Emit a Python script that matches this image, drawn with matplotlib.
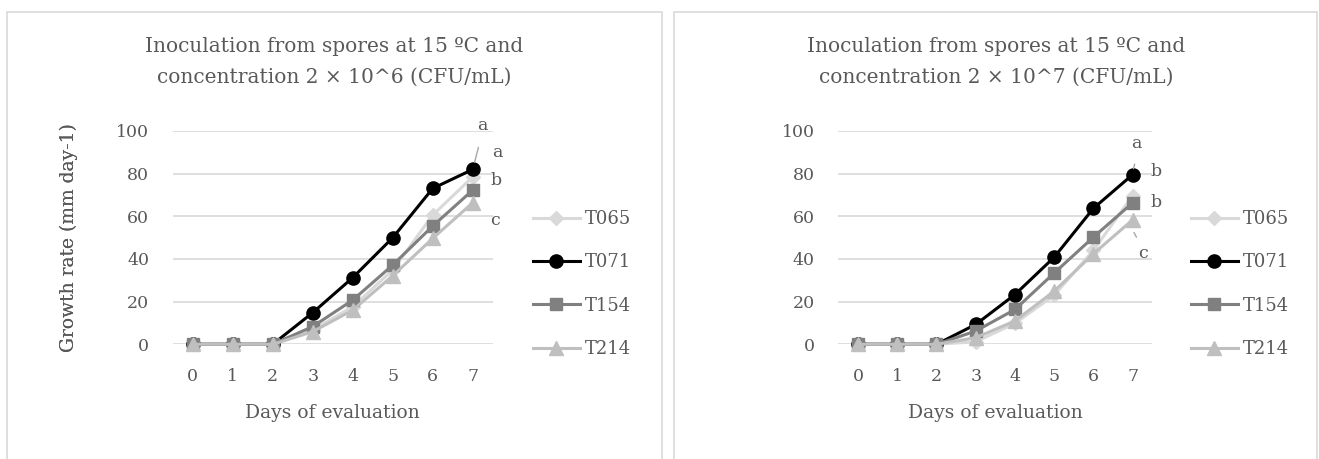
import matplotlib.pyplot as plt
from matplotlib.patches import Rectangle

# data
days = [0, 1, 2, 3, 4, 5, 6, 7]
strains = ['T065', 'T071', 'T154', 'T214']

# 2 x 10^6 CFU/mL
t065_a = [0, 0, 0, 6.7, 17.6, 34.8, 60.5, 78.4]
t071_a = [0, 0, 0, 14.8, 31.2, 49.9, 73.0, 81.9]
t154_a = [0, 0, 0, 8.3, 20.7, 37.1, 55.4, 72.2]
t214_a = [0, 0, 0, 5.9, 16.0, 32.1, 49.6, 66.3]

# 2 x 10^7 CFU/mL
t065_b = [0, 0, 0, 1.2, 9.8, 23.0, 44.0, 69.6]
t071_b = [0, 0, 0, 9.3, 23.3, 40.8, 63.7, 79.5]
t154_b = [0, 0, 0, 6.2, 16.3, 33.4, 50.2, 66.3]
t214_b = [0, 0, 0, 3.1, 10.9, 24.9, 42.4, 58.3]

letters_a = ['a', 'a', 'b', 'c']
letters_b = ['a', 'b', 'b', 'c']

titles = ['Inoculation from spores at 15 \u00baC and\nconcentration 2 \u00d7 10^6 (CFU/mL)',
          'Inoculation from spores at 15 \u00baC and\nconcentration 2 \u00d7 10^7 (CFU/mL)']

styles = {
    'T065': dict(color='#D9D9D9', marker='D', ms=7),
    'T071': dict(color='#000000', marker='o', ms=9.5),
    'T154': dict(color='#808080', marker='s', ms=8.5),
    'T214': dict(color='#BFBFBF', marker='^', ms=9.5),
}

txt = '#595959'
grid = '#D9D9D9'
plt.rcParams['font.family'] = ['DejaVu Serif']
fs = 12.5

W, H = 1319, 459
fig = plt.figure(figsize=(W / 100, H / 100), dpi=100)

# panel frames (chart areas)
for x0, x1 in [(7, 662), (674, 1317)]:
    fig.patches.append(Rectangle((x0 / W, -0.2), (x1 - x0) / W, 1.2 - 11.7 / H,
                                 transform=fig.transFigure, fill=False,
                                 edgecolor=grid, lw=1.2))

panels = [
    dict(left=172.7, width=320, series=[t065_a, t071_a, t154_a, t214_a],
         title_x=334, legend_x=533, letters=letters_a,
         letter_pos=[(7.24, 102.5), (7.61, 90), (7.58, 76.5), (7.56, 58.2)],
         leaders=[((7.03, 84), (7.16, 93.5))]),
    dict(left=838.4, width=313.9, series=[t065_b, t071_b, t154_b, t214_b],
         title_x=996, legend_x=1191, letters=letters_b,
         letter_pos=[(7.1, 94), (7.6, 80.8), (7.6, 66.4), (7.27, 42.4)],
         leaders=[((7.0, 81), (7.07, 85.6)), ((7.0, 53.5), (7.13, 49))]),
]

bottom, top = 344.3, 130.8
for i, p in enumerate(panels):
    ax = fig.add_axes([p['left'] / W, 1 - bottom / H, p['width'] / W, (bottom - top) / H])
    for name, vals in zip(strains, p['series']):
        st = styles[name]
        ax.plot(days, vals, color=st['color'], lw=2.2, marker=st['marker'],
                ms=st['ms'], label=name, clip_on=False)
    ax.set_xlim(-0.5, 7.5)
    ax.set_ylim(0, 100)
    ax.set_xticks(days)
    ax.set_yticks(range(0, 101, 20))
    ax.grid(axis='y', color=grid, lw=1.2)
    ax.set_axisbelow(True)
    for s in ax.spines.values():
        s.set_visible(False)
    ax.tick_params(length=0, labelsize=fs, labelcolor=txt)
    ax.tick_params(axis='x', pad=17)
    ax.tick_params(axis='y', pad=17)
    ax.set_xlabel('Days of evaluation', fontsize=fs + 1, color=txt, va='top')
    ax.set_ylabel('Growth rate (mm day-1)', fontsize=fs + 1, color=txt)
    ax.xaxis.set_label_coords(0.5, (bottom - 404) / (bottom - top))
    ax.yaxis.set_label_coords((78 - p['left']) / p['width'], 0.5)

    for lab, (lx, ly) in zip(p['letters'], p['letter_pos']):
        ax.text(lx, ly, lab, fontsize=fs, color=txt, ha='center', va='center', clip_on=False)
    for (x0, y0), (x1, y1) in p['leaders']:
        ax.annotate('', xy=(x0, y0), xytext=(x1, y1),
                    arrowprops=dict(arrowstyle='-', color='#A6A6A6', lw=1),
                    annotation_clip=False)

    fig.text(p['title_x'] / W, 1 - 62 / H, titles[i], ha='center', va='center',
             fontsize=14.5, color=txt, linespacing=1.75)

    ax.legend(loc='center left', bbox_to_anchor=(p['legend_x'] / W, 1 - 284 / H),
              bbox_transform=fig.transFigure, frameon=False, fontsize=fs + 0.5,
              labelcolor=txt, borderpad=0, borderaxespad=0, handlelength=2.6,
              handletextpad=0.3, labelspacing=1.4)

fig.savefig('out.png', dpi=100)
